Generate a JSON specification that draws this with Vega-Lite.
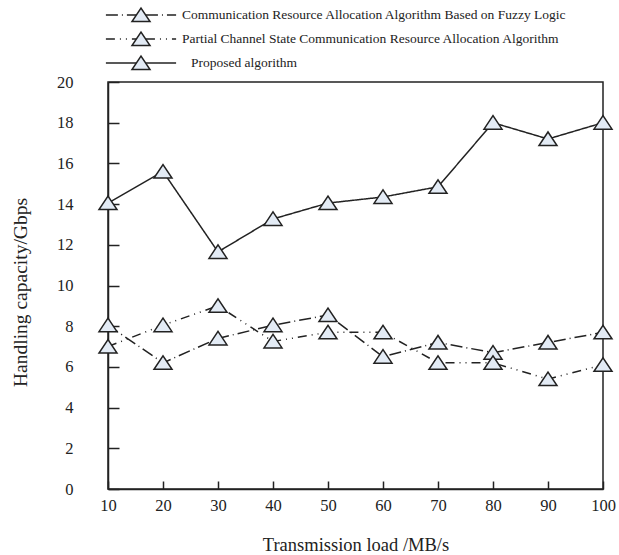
{
  "$schema": "https://vega.github.io/schema/vega-lite/v6.json",
  "autosize": {"type": "none"},
  "width": 495,
  "height": 407,
  "padding": {"left": 108, "top": 82, "right": 16, "bottom": 66},
  "background": "white",
  "config": {
    "view": {"stroke": "#222", "strokeWidth": 1.5},
    "font": "Liberation Serif",
    "axis": {"grid": false, "domainColor": "#222", "domainWidth": 1.5, "tickColor": "#222", "tickWidth": 1.5, "labelFont": "Liberation Serif", "titleFont": "Liberation Serif", "labelColor": "#222", "titleColor": "#222", "titleFontWeight": "normal"}
  },
  "data": {
    "values": [
      {"x": 10, "y": 8.05, "series": "Communication Resource Allocation Algorithm Based on Fuzzy Logic", "label": "Communication Resource Allocation Algorithm Based on Fuzzy Logic"},
      {"x": 20, "y": 6.2, "series": "Communication Resource Allocation Algorithm Based on Fuzzy Logic", "label": "Communication Resource Allocation Algorithm Based on Fuzzy Logic"},
      {"x": 30, "y": 7.4, "series": "Communication Resource Allocation Algorithm Based on Fuzzy Logic", "label": "Communication Resource Allocation Algorithm Based on Fuzzy Logic"},
      {"x": 40, "y": 8.05, "series": "Communication Resource Allocation Algorithm Based on Fuzzy Logic", "label": "Communication Resource Allocation Algorithm Based on Fuzzy Logic"},
      {"x": 50, "y": 8.55, "series": "Communication Resource Allocation Algorithm Based on Fuzzy Logic", "label": "Communication Resource Allocation Algorithm Based on Fuzzy Logic"},
      {"x": 60, "y": 6.5, "series": "Communication Resource Allocation Algorithm Based on Fuzzy Logic", "label": "Communication Resource Allocation Algorithm Based on Fuzzy Logic"},
      {"x": 70, "y": 7.2, "series": "Communication Resource Allocation Algorithm Based on Fuzzy Logic", "label": "Communication Resource Allocation Algorithm Based on Fuzzy Logic"},
      {"x": 80, "y": 6.7, "series": "Communication Resource Allocation Algorithm Based on Fuzzy Logic", "label": "Communication Resource Allocation Algorithm Based on Fuzzy Logic"},
      {"x": 90, "y": 7.2, "series": "Communication Resource Allocation Algorithm Based on Fuzzy Logic", "label": "Communication Resource Allocation Algorithm Based on Fuzzy Logic"},
      {"x": 100, "y": 7.7, "series": "Communication Resource Allocation Algorithm Based on Fuzzy Logic", "label": "Communication Resource Allocation Algorithm Based on Fuzzy Logic"},
      {"x": 10, "y": 7.0, "series": "Partial Channel State Communication Resource Allocation Algorithm", "label": "Partial Channel State Communication Resource Allocation Algorithm"},
      {"x": 20, "y": 8.05, "series": "Partial Channel State Communication Resource Allocation Algorithm", "label": "Partial Channel State Communication Resource Allocation Algorithm"},
      {"x": 30, "y": 9.0, "series": "Partial Channel State Communication Resource Allocation Algorithm", "label": "Partial Channel State Communication Resource Allocation Algorithm"},
      {"x": 40, "y": 7.25, "series": "Partial Channel State Communication Resource Allocation Algorithm", "label": "Partial Channel State Communication Resource Allocation Algorithm"},
      {"x": 50, "y": 7.7, "series": "Partial Channel State Communication Resource Allocation Algorithm", "label": "Partial Channel State Communication Resource Allocation Algorithm"},
      {"x": 60, "y": 7.7, "series": "Partial Channel State Communication Resource Allocation Algorithm", "label": "Partial Channel State Communication Resource Allocation Algorithm"},
      {"x": 70, "y": 6.2, "series": "Partial Channel State Communication Resource Allocation Algorithm", "label": "Partial Channel State Communication Resource Allocation Algorithm"},
      {"x": 80, "y": 6.2, "series": "Partial Channel State Communication Resource Allocation Algorithm", "label": "Partial Channel State Communication Resource Allocation Algorithm"},
      {"x": 90, "y": 5.4, "series": "Partial Channel State Communication Resource Allocation Algorithm", "label": "Partial Channel State Communication Resource Allocation Algorithm"},
      {"x": 100, "y": 6.1, "series": "Partial Channel State Communication Resource Allocation Algorithm", "label": "Partial Channel State Communication Resource Allocation Algorithm"},
      {"x": 10, "y": 14.05, "series": "Proposed algorithm", "label": "Proposed algorithm"},
      {"x": 20, "y": 15.6, "series": "Proposed algorithm", "label": "Proposed algorithm"},
      {"x": 30, "y": 11.65, "series": "Proposed algorithm", "label": "Proposed algorithm"},
      {"x": 40, "y": 13.27, "series": "Proposed algorithm", "label": "Proposed algorithm"},
      {"x": 50, "y": 14.05, "series": "Proposed algorithm", "label": "Proposed algorithm"},
      {"x": 60, "y": 14.35, "series": "Proposed algorithm", "label": "Proposed algorithm"},
      {"x": 70, "y": 14.85, "series": "Proposed algorithm", "label": "Proposed algorithm"},
      {"x": 80, "y": 18.0, "series": "Proposed algorithm", "label": "Proposed algorithm"},
      {"x": 90, "y": 17.2, "series": "Proposed algorithm", "label": "Proposed algorithm"},
      {"x": 100, "y": 18.0, "series": "Proposed algorithm", "label": "Proposed algorithm"}
    ]
  },
  "encoding": {
    "x": {"field": "x", "type": "quantitative", "scale": {"domain": [10, 100], "nice": false, "zero": false},
      "axis": {"title": "Transmission load /MB/s", "values": [10, 20, 30, 40, 50, 60, 70, 80, 90, 100], "tickSize": -8, "labelPadding": 16, "labelFontSize": 16.5, "titleFontSize": 18.5, "titlePadding": 22, "labelFlush": false, "labelOverlap": false}},
    "y": {"field": "y", "type": "quantitative", "scale": {"domain": [0, 20], "nice": false},
      "axis": {"title": "Handling capacity/Gbps", "values": [0, 2, 4, 6, 8, 10, 12, 14, 16, 18, 20], "tickSize": -11, "labelPadding": 46, "labelFontSize": 16.5, "titleFontSize": 19.5, "titlePadding": 26, "titleY": 210, "labelFlush": false, "labelOverlap": false}}
  },
  "layer": [
    {
      "mark": {"type": "line", "color": "#222", "strokeWidth": 1.5},
      "encoding": {
        "strokeDash": {"field": "series", "type": "nominal",
          "scale": {"domain": ["Communication Resource Allocation Algorithm Based on Fuzzy Logic", "Partial Channel State Communication Resource Allocation Algorithm", "Proposed algorithm"], "range": [[12, 4, 1, 4], [9, 5, 1, 5, 1, 5], [1, 0]]},
          "legend": {"title": null, "orient": "none", "legendX": 23, "legendY": -77, "direction": "vertical", "rowPadding": 7,
            "symbolType": "M-3.9,0L-0.55,0M0.55,0L3.9,0", "symbolSize": 324, "symbolStrokeWidth": 1.5, "symbolStrokeColor": "#222",
            "labelFont": "Liberation Serif", "labelFontSize": 13.5, "labelColor": "#222", "labelOffset": 31, "labelLimit": 600,
            "encode": {"labels": {"update": {"dx": {"signal": "datum.label == 'Proposed algorithm' ? 9 : 0"}}}}}
        }
      }
    },
    {
      "mark": {"type": "point", "shape": "M-1,0.72L1,0.72L0,-0.78Z", "filled": false, "fill": "#e3ebf5", "strokeWidth": 1.5, "size": 324, "opacity": 1, "fillOpacity": 1},
      "encoding": {
        "stroke": {"field": "label", "type": "nominal",
          "scale": {"range": ["#222222", "#222222", "#222222"]},
          "legend": {"title": null, "orient": "none", "legendX": 23, "legendY": -77, "direction": "vertical", "rowPadding": 3,
            "symbolType": "M-1,0.72L1,0.72L0,-0.78Z", "symbolSize": 324, "symbolStrokeWidth": 1.5, "symbolFillColor": "#e3ebf5", "symbolOpacity": 1,
            "labelFontSize": 13.5, "labelOffset": 31, "labelExpr": "''",
            "encode": {"symbols": {"update": {"fill": {"value": "#e3ebf5"}, "fillOpacity": {"value": 1}, "strokeWidth": {"value": 1.5}}}}}
        }
      }
    }
  ]
}
